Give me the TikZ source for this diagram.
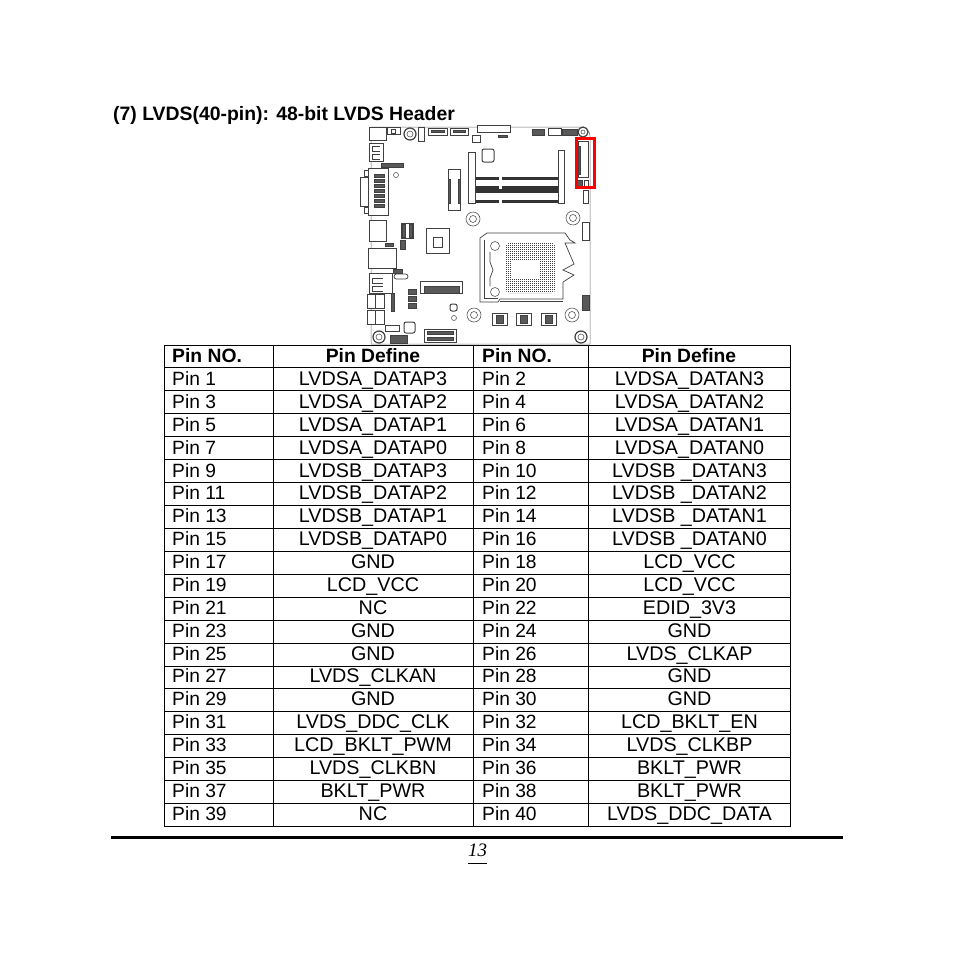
\documentclass[tikz,border=0pt]{standalone}
\usepackage{fontspec}
\setmainfont{Liberation Sans}
\newfontfamily\pagefont{Liberation Serif}
\usetikzlibrary{positioning}
\tikzset{
	pinleft/.style={anchor=base west, inner sep=0pt, font=\fontsize{19.2}{22}\selectfont},
	pinmid/.style={anchor=base, inner sep=0pt, font=\fontsize{19.75}{22}\selectfont},
	headtext/.style={font=\bfseries\fontsize{19.3}{22}\selectfont},
	gridline/.style={draw=black, line width=1pt},
	outline/.style={draw=black!55, line width=.5pt},
	part/.style={draw=black!75, line width=.7pt, fill=white},
	darkpart/.style={draw=black!75, line width=.5pt, fill=black!65},
	dimmbar/.style={fill=black!80, draw=none},
	standoff/.style={draw=black!65, line width=.6pt, fill=white},
}
\begin{document}
\begin{tikzpicture}[x=1pt, y=-1pt]
	\useasboundingbox (0,0) rectangle (954,954);
	\fill [white] (0,0) rectangle (954,954);

	\node (title) [anchor=base west, inner sep=0pt, font=\bfseries\fontsize{19.4}{22}\selectfont] at (113,120) {(7) LVDS(40-pin): 48-bit LVDS Header};

	% board
	\draw [outline] (371,127) -- (581,127) arc (-90:0:9) -- (590,344) -- (371,344) -- cycle;
	\draw [part] (369,127) rectangle (386,140);
	\draw [part] (387,127) rectangle (400,134);
	\draw [part] (391,129) rectangle (395,133);
	\draw [part] (418,127) rectangle (424,141);
	\draw [part] (428,128) rectangle (447,135);
	\draw [darkpart] (431,130) rectangle (444,132);
	\draw [part] (450,128) rectangle (468,135);
	\draw [darkpart] (453,130) rectangle (465,132);
	\draw [part] (472,135) rectangle (480,142);
	\draw [part] (477,125) rectangle (510,132);
	\draw [darkpart] (498,135) rectangle (507,137);
	\draw [part] (369,143) rectangle (383,161);
	\draw [part] (380,146) -- (372,146) -- (372,151) -- (380,151);
	\draw [part] (380,154) -- (372,154) -- (372,159) -- (380,159);
	\draw [darkpart] (381,163) rectangle (403,167);
	\draw [part] (368,168) rectangle (388,215);
	\draw [part] (364,170) rectangle (368,176);
	\draw [part] (364,207) rectangle (368,213);
	\draw [part] (360,177) rectangle (368,206);
	\foreach \y in {174,179,...,204}
		\draw [darkpart] (374,\y) rectangle (384,\y+3);
	\draw [standoff] (396,175) circle (2.5);
	\draw [part] (448,169) rectangle (460,210);
	\draw [darkpart] (448,179) rectangle (450,203);
	\draw [darkpart] (458,179) rectangle (460,203);
	\draw [part] (369,220) rectangle (386,241);
	\draw [part] (401,223) rectangle (413,238);
	\draw [darkpart] (402,224) rectangle (405,237);
	\draw [darkpart] (409,224) rectangle (412,237);
	\draw [darkpart] (385,243) rectangle (393,246);
	\draw [darkpart] (400,240) rectangle (405,249);
	\draw [part] (426,228) rectangle (449,253);
	\draw [part] (433,237) rectangle (442,247);
	\draw [part] (368,248) rectangle (396,268);
	\draw [darkpart] (393,269) rectangle (402,273);
	\draw [part, rounded corners=2.5pt] (394,274) rectangle (408,279);
	\draw [part] (369,273) rectangle (392,293);
	\draw [part] (383,278) -- (372,278) -- (372,283) -- (383,283);
	\draw [part] (383,286) -- (372,286) -- (372,291) -- (383,291);
	\draw [part] (367,294) rectangle (384,308);
	\draw [part] (367,310) rectangle (384,324);
	\draw [part] (375,294) -- (375,308);
	\draw [part] (375,310) -- (375,324);
	\draw [darkpart] (391,293) rectangle (394,311);
	\draw [part] (420,281) rectangle (462,293);
	\draw [darkpart] (424,286) rectangle (459,293);
	\foreach \y in {289,296,303}
		\draw [darkpart] (408,\y) rectangle (416,\y+5);
	\draw [part, rounded corners=2pt, line width=1pt] (450,304) rectangle (457,311);
	\draw [standoff] (454,318) circle (2.5);
	\draw [part] (385,325) rectangle (399,331);
	\draw [part, rounded corners=2pt, line width=1pt] (404,322) rectangle (415,333);
	\draw [darkpart] (390,335) rectangle (407,343);
	\draw [part] (424,329) rectangle (456,342);
	\draw [darkpart] (427,331) rectangle (453,334);
	\draw [darkpart] (427,337) rectangle (453,340);

	% upper right of the board
	\draw [part, rounded corners=2pt, line width=1pt] (482,149) rectangle (494,162);
	\draw [darkpart] (532,129) rectangle (544,135);
	\draw [part] (548,128) rectangle (561,135);
	\draw [darkpart] (562,129) rectangle (577,135);
	\draw [part] (578,141) rectangle (588,177);
	\draw [darkpart] (578,146) rectangle (580,174);
	\draw [darkpart] (577,180) rectangle (582,186);
	\draw [part] (583,190) rectangle (588,203);
	\draw [part] (584,180) rectangle (588,186);
	\draw [part] (558,150) rectangle (564,203);
	\foreach \y/\h in {177/3, 186/7, 200/3}
		\draw [dimmbar] (472,\y) rectangle (558,\y+\h);
	\foreach \y in {177,186,200}
		\fill [white] (499,\y) rectangle (502,\y+3);
	\draw [part] (468,152) rectangle (475,203);
	\draw [part] (582,222) rectangle (589,240);
	\draw [darkpart] (582,295) rectangle (589,310);

	% mounting holes
	\foreach \x/\y in {473/219, 573/218, 474/315, 572/315} {
		\draw [standoff] (\x,\y) circle (7);
		\draw [standoff] (\x,\y) circle (3.5);
	}
	\foreach \x/\y/\r in {410/134/6, 583/132/5, 379/337/6, 581/337/6} {
		\draw [darkpart, fill=white, line width=1.2pt] (\x,\y) circle (\r);
		\draw [standoff] (\x,\y) circle (\r-3);
	}

	% socket
	\draw [part] (480,238) -- (487,233) -- (565,233) -- (570,240) -- (575,243) -- (565,243) -- (574,264) -- (563,270) -- (574,275) -- (563,282) -- (563,299) -- (500,299) -- (498,302) -- (480,302) -- cycle;
	\draw [part] (484,240) -- (484,298) -- (498,298);
	\draw [part] (490,252) -- (490,262) -- (493,270) -- (490,278) -- (490,286);
	\draw [part] (500,301) -- (563,301);
	\draw [standoff] (495,246) circle (4.5);
	\draw [standoff] (495,292) circle (4.5);
	\fill [black!75, rounded corners=3pt] (506,243) rectangle (555,293);
	\foreach \x in {507,509,...,555}
		\draw [white, line width=.35pt] (\x,243) -- (\x,293);
	\foreach \y in {244,246,...,292}
		\draw [white, line width=.35pt] (506,\y) -- (555,\y);
	\fill [white] (511,260) rectangle (540,278);

	% inductors
	\foreach \x in {492,516,541} {
		\draw [part] (\x,313) rectangle (\x+15,325);
		\draw [darkpart] (\x+4,315) rectangle (\x+11,323);
	}

	% red box
	\draw [red, line width=3pt] (576.5,138.2) rectangle (594.5,187);

	% table
	\draw [gridline] (164,345) rectangle (790,826.5);
	\foreach \x in {273.5,473,588.5}
		\draw [gridline] (\x,345) -- (\x,826.5);
	\foreach \r in {1,...,20}
		\draw [gridline] (164,345+22.93*\r) -- (790,345+22.93*\r);

	\node (head1) [pinleft, headtext] at (172,362.5) {Pin NO.};
	\node (head2) [pinmid, headtext] at (373,362.5) {Pin Define};
	\node (head3) [pinleft, headtext] at (482,362.5) {Pin NO.};
	\node (head4) [pinmid, headtext] at (689,362.5) {Pin Define};

	\foreach \leftdef/\rightdef [count=\r] in {
		LVDSA\_DATAP3/LVDSA\_DATAN3,
		LVDSA\_DATAP2/LVDSA\_DATAN2,
		LVDSA\_DATAP1/LVDSA\_DATAN1,
		LVDSA\_DATAP0/LVDSA\_DATAN0,
		LVDSB\_DATAP3/LVDSB \_DATAN3,
		LVDSB\_DATAP2/LVDSB \_DATAN2,
		LVDSB\_DATAP1/LVDSB \_DATAN1,
		LVDSB\_DATAP0/LVDSB \_DATAN0,
		GND/LCD\_VCC,
		LCD\_VCC/LCD\_VCC,
		NC/EDID\_3V3,
		GND/GND,
		GND/LVDS\_CLKAP,
		LVDS\_CLKAN/GND,
		GND/GND,
		LVDS\_DDC\_CLK/LCD\_BKLT\_EN,
		LCD\_BKLT\_PWM/LVDS\_CLKBP,
		LVDS\_CLKBN/BKLT\_PWR,
		BKLT\_PWR/BKLT\_PWR,
		NC/LVDS\_DDC\_DATA} {
		\pgfmathtruncatemacro{\pinodd}{2*\r-1}
		\pgfmathtruncatemacro{\pineven}{2*\r}
		\pgfmathsetmacro{\rowy}{362.7+22.87*\r}
		\node (pin\pinodd) [pinleft] at (172,\rowy) {Pin \pinodd};
		\node (def\pinodd) [pinmid] at (373,\rowy) {\leftdef};
		\node (pin\pineven) [pinleft] at (482,\rowy) {Pin \pineven};
		\node (def\pineven) [pinmid] at (689.5,\rowy) {\rightdef};
	}

	% foot of the page
	\draw [black, line width=2.8pt] (111,837.5) -- (843,837.5);
	\node (pageno) [anchor=base, inner sep=0pt, font=\pagefont\itshape\fontsize{19}{21}\selectfont] at (477.5,856) {13};
	\draw [black, line width=.6pt] (468,863) -- (487,863);
\end{tikzpicture}
\end{document}
